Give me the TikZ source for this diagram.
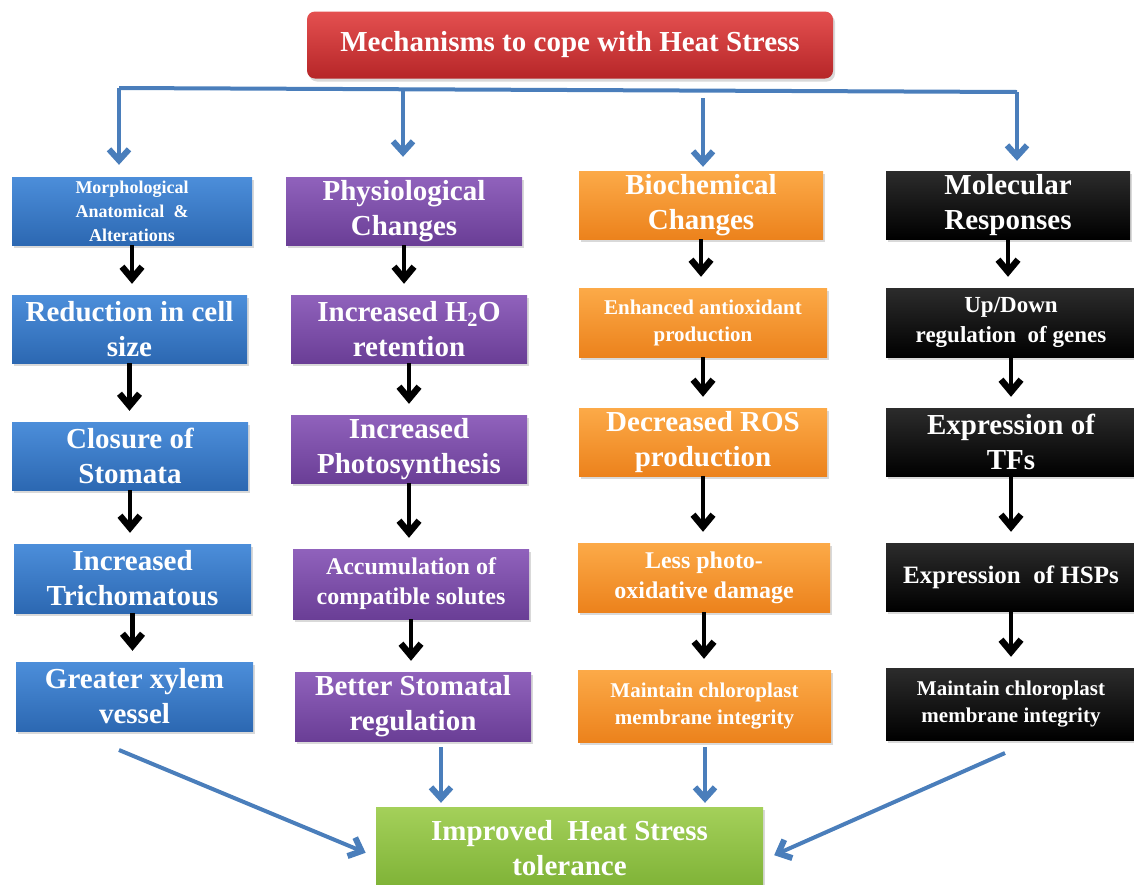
\documentclass[tikz,border=0pt]{standalone}
\usepackage{fontspec}
\setmainfont{Liberation Serif}
\usetikzlibrary{arrows.meta,shadows}

\definecolor{morphtop}{RGB}{76,142,218}
\definecolor{morphbot}{RGB}{44,104,178}
\definecolor{physiotop}{RGB}{144,98,188}
\definecolor{physiobot}{RGB}{106,62,150}
\definecolor{biotop}{RGB}{252,170,72}
\definecolor{biobot}{RGB}{236,130,28}
\definecolor{moltop}{RGB}{44,44,44}
\definecolor{molbot}{RGB}{0,0,0}
\definecolor{goaltop}{RGB}{164,208,90}
\definecolor{goalbot}{RGB}{126,178,54}
\definecolor{titletop}{RGB}{228,80,80}
\definecolor{titlebot}{RGB}{182,38,40}
\definecolor{linkblue}{RGB}{74,126,187}

\tikzset{
  card/.style={rectangle, text=white, align=center, inner sep=2pt,
    drop shadow={shadow xshift=2pt, shadow yshift=-3pt, opacity=0.3}},
  morph/.style={card, top color=morphtop, bottom color=morphbot},
  physio/.style={card, top color=physiotop, bottom color=physiobot},
  bio/.style={card, top color=biotop, bottom color=biobot},
  mol/.style={card, top color=moltop, bottom color=molbot},
  bigtext/.style={font=\bfseries\fontsize{29}{35}\selectfont},
  midtext/.style={font=\bfseries\fontsize{24}{30}\selectfont},
  smalltext/.style={font=\bfseries\fontsize{21}{27}\selectfont},
  tinytext/.style={font=\bfseries\fontsize{18}{24}\selectfont},
  feed/.style={draw=linkblue, line width=4pt,
    -{Straight Barb[length=11pt,width=20pt,line width=6pt]}},
  nextstep/.style={draw=black, line width=4.5pt, shorten >=11pt,
    -{Straight Barb[length=12pt,width=20pt,line width=6.5pt]}}
}

\begin{document}
\begin{tikzpicture}[x=1pt, y=-1pt]
  \useasboundingbox (0,0) rectangle (1134,884);

  \node[card, bigtext, rounded corners=8pt, top color=titletop, bottom color=titlebot,
        minimum width=526pt, minimum height=67pt] (heat) at (570,45)
        {Mechanisms to cope with Heat Stress};

  % morphological column
  \node[morph, tinytext, minimum width=240pt, minimum height=68pt] (m1) at (132,211)
        {Morphological\\Anatomical \ \&\\Alterations};
  \node[morph, bigtext, minimum width=235pt, minimum height=68pt] (m2) at (129.5,329)
        {Reduction in cell\\size};
  \node[morph, bigtext, minimum width=236pt, minimum height=68pt] (m3) at (130,456)
        {Closure of\\Stomata};
  \node[morph, bigtext, minimum width=237pt, minimum height=69pt] (m4) at (132.5,578.5)
        {Increased\\Trichomatous};
  \node[morph, bigtext, minimum width=237pt, minimum height=69pt] (m5) at (134.5,696.5)
        {Greater xylem\\vessel};

  % physiological column
  \node[physio, bigtext, minimum width=236pt, minimum height=68pt] (p1) at (404,211)
        {Physiological\\Changes};
  \node[physio, bigtext, minimum width=236pt, minimum height=68pt] (p2) at (409,329)
        {Increased H\textsubscript{2}O\\retention};
  \node[physio, bigtext, minimum width=236pt, minimum height=68pt] (p3) at (409,449)
        {Increased\\Photosynthesis};
  \node[physio, midtext, minimum width=236pt, minimum height=70pt] (p4) at (411,584)
        {Accumulation of\\compatible solutes};
  \node[physio, bigtext, minimum width=236pt, minimum height=69pt] (p5) at (413,706.5)
        {Better Stomatal\\regulation};

  % biochemical column
  \node[bio, bigtext, minimum width=244pt, minimum height=68pt] (b1) at (701,205)
        {Biochemical\\Changes};
  \node[bio, smalltext, minimum width=248pt, minimum height=69pt] (b2) at (703,322.5)
        {Enhanced antioxidant\\production};
  \node[bio, bigtext, minimum width=248pt, minimum height=68pt] (b3) at (703,442)
        {Decreased ROS\\production};
  \node[bio, midtext, minimum width=252pt, minimum height=69pt] (b4) at (704,577.5)
        {Less photo-\\oxidative damage};
  \node[bio, smalltext, minimum width=253pt, minimum height=72pt] (b5) at (704.5,706)
        {Maintain chloroplast\\membrane integrity};

  % molecular column
  \node[mol, bigtext, minimum width=244pt, minimum height=68pt] (r1) at (1008,205)
        {Molecular\\Responses};
  \node[mol, font=\bfseries\fontsize{23}{30}\selectfont, minimum width=250pt,
        minimum height=69pt] (r2) at (1011,322.5)
        {Up/Down\\regulation \ of genes};
  \node[mol, bigtext, minimum width=250pt, minimum height=68pt] (r3) at (1011,442)
        {Expression of\\TFs};
  \node[mol, font=\bfseries\fontsize{25}{30}\selectfont, minimum width=250pt,
        minimum height=68pt] (r4) at (1011,577)
        {Expression \ of HSPs};
  \node[mol, smalltext, minimum width=250pt, minimum height=72pt] (r5) at (1011,704)
        {Maintain chloroplast\\membrane integrity};

  \node[card, bigtext, top color=goaltop, bottom color=goalbot,
        minimum width=387pt, minimum height=82pt] (tol) at (569.5,848)
        {Improved \ Heat Stress\\tolerance};

  % branching from the title
  \coordinate (busL) at (119,88);
  \coordinate (busR) at (1017,92);
  \coordinate (tap2) at (403,89.5);
  \coordinate (tap3) at (703,98);
  \draw[linkblue, line width=4pt] (busL) -- (busR);
  \draw[feed, shorten >=12pt] (busL) -- (busL |- m1.north);
  \draw[feed, shorten >=20pt] (tap2) -- (tap2 |- p1.north);
  \draw[feed, shorten >=4pt] (tap3) -- (tap3 |- b1.north);
  \draw[feed, shorten >=10pt] (busR) -- (busR |- r1.north);

  \foreach \c in {m,p,b,r}
    \foreach \i/\j in {1/2,2/3,3/4,4/5}
      \draw[nextstep] (\c\i.south) -- (\c\i.south |- \c\j.north);

  % into the final box
  \coordinate (f1) at (119,750);
  \coordinate (f2) at (441,747);
  \coordinate (f3) at (705,747);
  \coordinate (f4) at (1005,753);
  \draw[feed, shorten >=11pt] (f1) -- ([yshift=-9pt]tol.west);
  \draw[feed, shorten >=4pt] (f2) -- (f2 |- tol.north);
  \draw[feed, shorten >=4pt] (f3) -- (f3 |- tol.north);
  \draw[feed, shorten >=12pt] (f4) -- ([yshift=-12pt]tol.east);
\end{tikzpicture}
\end{document}
